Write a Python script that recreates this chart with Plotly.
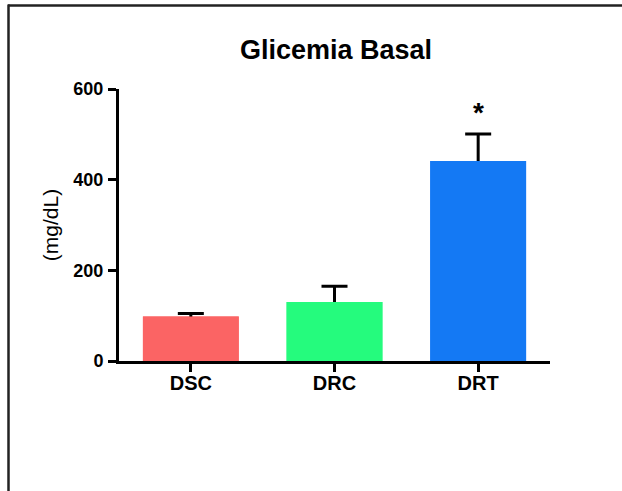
import plotly.graph_objects as go

categories = ["DSC", "DRC", "DRT"]
means = [98, 130, 441]
sem = [7, 35, 60]
colors = ["#FB6464", "#25FB7D", "#1479F4"]
y_ticks = [0, 200, 400, 600]
title = "Glicemia Basal"
y_title = "(mg/dL)"

W, H = 622, 491
L, R, T, B = 119, 72, 89, 130
pw, ph = W - L - R, H - T - B

def px_x(px):
    return (px - L) / pw

def px_y(py):
    return (H - B - py) / ph

FONT = "Arial, Liberation Sans, Helvetica, sans-serif"

fig = go.Figure()
# error bars (drawn behind the bars, like GraphPad: only the upper part shows)
fig.add_trace(go.Bar(
    x=categories, y=means,
    marker=dict(color=colors, line=dict(width=0)),
    width=0.667,
    error_y=dict(type="data", array=sem, symmetric=True,
                 color="black", thickness=3, width=13),
    showlegend=False, hoverinfo="skip",
))
fig.add_trace(go.Bar(
    x=categories, y=means,
    marker=dict(color=colors, line=dict(width=0)),
    width=0.667,
    showlegend=False,
))

fig.add_annotation(x="DRT", y=548, text="<b>*</b>", showarrow=False,
                   font=dict(size=28, color="black", family=FONT),
                   xref="x", yref="y", yanchor="middle")

fig.update_layout(
    width=W, height=H,
    margin=dict(l=L, r=R, t=T, b=B, pad=0),
    paper_bgcolor="white", plot_bgcolor="white",
    barmode="overlay",
    title=dict(text="<b>" + title + "</b>", xref="container", x=336 / W,
               xanchor="center", yref="container", y=1 - 50 / H, yanchor="middle",
               font=dict(size=27, color="black", family=FONT)),
    font=dict(family=FONT, color="black"),
    xaxis=dict(range=[-0.5, 2.5], showline=True, linewidth=3, linecolor="black",
               ticks="outside", ticklen=8, tickwidth=3, tickcolor="black",
               ticklabelstandoff=-6,
               tickfont=dict(size=20, family=FONT, color="black", weight="bold"),
               showgrid=False, zeroline=False, fixedrange=True),
    yaxis=dict(range=[0, 600], tickvals=y_ticks, showline=True, linewidth=3,
               linecolor="black", ticks="outside", ticklen=8, tickwidth=3,
               tickcolor="black", ticklabelstandoff=1,
               tickfont=dict(size=18, family=FONT, color="black", weight="bold"),
               title=dict(text=y_title, font=dict(size=21, family=FONT, color="black"),
                          standoff=10),
               showgrid=False, zeroline=False, fixedrange=True),
    shapes=[
        dict(type="line", xref="paper", yref="paper",
             x0=px_x(8), x1=px_x(630), y0=px_y(5.5), y1=px_y(5.5),
             line=dict(color="#222222", width=2.5)),
        dict(type="line", xref="paper", yref="paper",
             x0=px_x(8.5), x1=px_x(8.5), y0=px_y(4.5), y1=px_y(500),
             line=dict(color="#222222", width=2.5)),
    ],
)

fig.write_html("out.html", config={"displayModeBar": False},
               post_script="document.body.style.margin='0';")
